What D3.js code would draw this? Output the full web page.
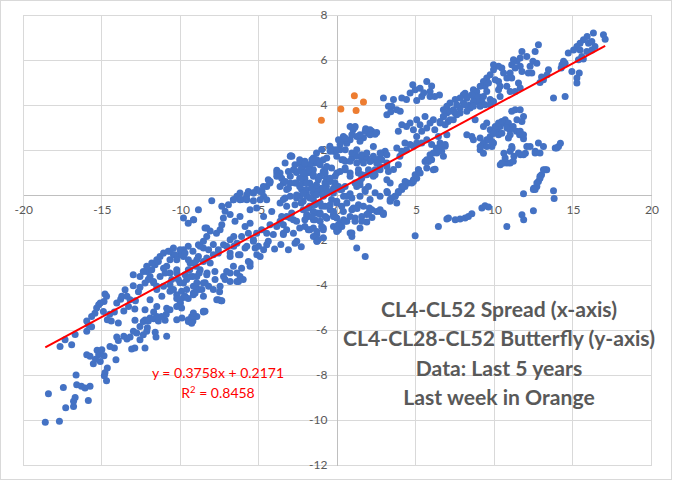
<!DOCTYPE html>
<html><head><meta charset="utf-8">
<script src="https://cdn.jsdelivr.net/npm/d3@7"></script>
<style>body{margin:0;background:#fff}svg{display:block}</style>
</head><body><svg id="chart" width="673" height="481"></svg>
<script>
const xTicks = [-20,-15,-10,-5,0,5,10,15,20];
const yTicks = [-12,-10,-8,-6,-4,-2,0,2,4,6,8];
const trendSlope = 0.3758, trendIntercept = 0.2171;
const trendRange = [-18.6, 17.05];
const equationLines = ["y = 0.3758x + 0.2171", "R² = 0.8458"];
const noteLines = ["CL4-CL52 Spread (x-axis)", "CL4-CL28-CL52 Butterfly (y-axis)", "Data: Last 5 years", "Last week in Orange"];
const orangePoints = [[-1.02,3.32],[0.22,3.82],[1.08,4.41],[1.19,3.76],[1.66,4.13]];
const bluePoints = [
[-18.6,-10.1],[-17.7,-10.05],[-18.4,-8.83],[-17.45,-8.55],[-17.3,-9.45],[-16.8,-9.4],[-16.8,-9.17],[-16.7,-9.0],[-15.86,-9.13],[-16.6,-8.43],[-16.3,-8.5],[-16.07,-8.58],[-15.75,-8.5],[-16.64,-8.0],[-14.7,-8.25],[-14.84,-8.03],[-14.8,-7.9],[-14.65,-7.69],[-15.54,-7.5],[-15.75,-7.17],[-15.96,-7.1],[-15.3,-6.9],[-15.2,-7.1],[-15.1,-7.4],[-15.4,-7.3],[-14.86,-7.14],[-15.0,-6.88],[-14.48,-6.73],[-14.1,-7.32],[-14.2,-6.8],[-14.05,-6.31],[-13.95,-6.47],[-13.6,-6.28],[-13.4,-6.4],[-13.2,-6.31],[-13.1,-6.84],[-12.9,-6.8],[-12.57,-6.43],[-12.78,-6.13],[-12.99,-6.05],[-12.36,-6.21],[-12.14,-6.06],[-12.25,-6.8],[-12.1,-5.9],[-12.57,-5.84],[-12.89,-5.57],[-12.36,-5.62],[-12.25,-5.55],[-11.93,-5.47],[-12.04,-5.6],[-11.7,-5.5],[-11.5,-5.4],[-11.55,-6.31],[-11.6,-6.1],[-10.87,-6.28],[-11.4,-5.6],[-10.97,-5.57],[-11.2,-5.4],[-10.9,-5.3],[-10.66,-5.1],[-10.87,-5.03],[-10.23,-4.95],[-10.0,-4.8],[-9.49,-5.54],[-9.2,-5.6],[-9.28,-5.4],[-8.53,-5.17],[-10.66,-4.28],
[-17.66,-6.73],[-17.34,-6.43],[-16.92,-6.65],[-16.7,-6.2],[-15.96,-6.06],[-15.86,-5.77],[-15.65,-5.86],[-15.96,-5.6],[-15.65,-5.4],[-15.44,-5.25],[-15.33,-5.02],[-15.2,-4.88],[-15.1,-4.8],[-14.86,-4.73],[-14.7,-4.5],[-14.8,-4.4],[-14.9,-5.18],[-14.65,-5.54],[-14.4,-5.6],[-14.5,-5.3],[-14.2,-5.2],[-13.95,-5.69],[-14.05,-4.8],[-13.8,-4.63],[-13.73,-4.5],[-13.52,-4.21],[-13.4,-4.5],[-13.2,-4.65],[-13.3,-4.95],[-13.6,-5.15],[-12.9,-5.07],[-12.86,-4.7],[-13.0,-4.03],[-12.57,-4.1],[-12.67,-4.3],[-12.25,-3.91],[-12.04,-3.76],[-11.93,-3.62],[-12.14,-3.4],[-11.82,-3.32],[-11.61,-3.1],[-11.4,-2.95],[-11.7,-3.9],[-11.5,-4.2],[-11.93,-4.65],[-12.25,-5.1],[-11.7,-5.2],[-11.5,-4.95],[-11.18,-4.5],[-11.07,-4.06],[-11.29,-3.62],[-10.97,-3.47],[-10.87,-3.17],[-10.66,-2.88],[-10.44,-2.65],[-10.23,-3.32],[-10.55,-3.76],[-10.02,-3.9],[-10.23,-4.43],[-9.92,-4.28],[-9.7,-4.5],[-9.6,-3.76],[-9.49,-3.32],[-9.38,-3.02],[-9.8,-2.73],[-9.17,-4.06],[-8.95,-3.62],[-8.74,-3.32],[-8.53,-2.95],[-8.95,-2.88],[-8.3,-3.47],[-8.42,-3.9],[-9.17,-4.43],
[-10.23,-5.54],[-9.9,-5.47],[-9.49,-5.62],[-9.28,-5.7],[-8.95,-5.4],[-8.43,-5.17],[-10.02,-4.8],[-9.92,-5.02],[-10.23,-4.6],[-9.8,-4.55],[-9.5,-4.6],[-9.17,-4.36],[-9.6,-4.2],[-9.0,-4.1],[-8.83,-4.2],[-8.53,-3.91],[-8.2,-4.06],[-7.9,-4.2],[-7.68,-4.65],[-7.4,-4.7],[-7.5,-4.3],[-7.79,-3.76],[-7.25,-3.62],[-6.83,-3.84],[-6.4,-3.47],[-6.2,-3.62],[-6.0,-3.76],[-6.3,-3.84],[-5.67,-2.95],[-5.56,-3.17],[-5.13,-2.65],[-5.03,-2.28],[-4.7,-2.43],[-4.5,-2.21],[-3.12,-2.43],[-2.7,-2.14],[-1.3,-2.06],[-7.05,-3.4],
[-13.0,-3.54],[-12.57,-3.62],[-12.36,-3.4],[-12.14,-3.17],[-11.82,-3.02],[-11.5,-2.88],[-11.29,-2.73],[-11.07,-2.58],[-10.77,-2.5],[-10.44,-2.36],[-10.02,-2.65],[-9.8,-2.43],[-9.5,-2.28],[-9.2,-2.5],[-8.85,-2.21],[-8.53,-2.36],[-8.32,-2.8],[-7.9,-2.65],[-7.58,-2.43],[-7.25,-2.21],[-6.83,-2.58],[-6.6,-2.28],[-6.2,-2.65],[-5.88,-2.36],[-5.35,-2.06],[-10.66,-3.47],[-11.07,-3.25],[-11.71,-3.84],[-11.5,-4.06],[-10.66,-3.99],[-10.13,-3.76],[-9.7,-3.54],[-9.4,-3.32],[-9.0,-3.17],[-8.8,-3.47],[-9.2,-3.62],
[-9.8,-1.02],[-9.17,-1.1],[-9.5,-1.25],[-8.85,-0.65],[-8.0,-0.25],[-8.43,-1.47],[-8.1,-1.6],[-8.32,-1.84],[-7.7,-1.7],[-7.47,-1.54],[-7.36,-1.32],[-7.26,-1.02],[-7.15,-0.72],[-7.36,-0.5],[-6.94,-0.43],[-6.62,-0.21],[-6.4,-0.06],[-6.2,0.09],[-6.1,-0.2],[-5.8,-0.13],[-5.67,0.16],[-5.35,0.1],[-5.13,0.24],[-4.8,0.16],[-4.7,-0.06],[-4.5,0.38],[-4.3,0.53],[-4.4,0.68],[-3.86,0.98],[-3.86,1.1],[-3.55,0.75],[-3.44,0.53],[-3.23,0.24],[-3.33,-0.13],[-3.65,-0.35],[-3.12,1.05],[-2.9,1.72],[-2.7,1.35],[-2.6,1.0],[-2.4,1.57],[-2.28,1.2],[-1.97,1.35],[-1.76,1.0],[-2.07,0.75],[-1.76,0.53],[-1.53,1.64],[-1.43,1.42],[-1.33,1.87],[-1.0,2.02],[-0.9,1.57],[-0.8,1.13],[-0.7,0.75],[-0.7,0.38],[-1.0,0.3],[-1.21,0.09],[-1.53,0.24],[-1.97,0.09],[-2.28,0.24],[-2.6,-0.13],[-2.18,-0.28],[-1.76,-0.5],[-1.95,-0.95],[-1.85,-1.54],[-1.53,-1.1],[-1.31,-1.76],[-0.9,-1.47],[-0.9,-1.9],[-2.59,-2.06],[-2.8,-1.7],[-0.25,-0.73],[-0.04,-1.02],[0.38,-0.73],[0.17,-1.4],[-0.48,2.17],[-0.15,1.94],[0.17,2.25],[-0.04,0.98],[-0.25,0.09],[-2.97,1.75],
[-10.66,-2.5],[-10.35,-2.65],[-10.02,-2.43],[-9.7,-2.58],[-10.23,-2.88],[-9.49,-2.88],[-9.17,-3.02],[-8.85,-2.73],[-8.74,-2.28],[-8.53,-2.06],[-8.2,-2.43],[-7.9,-2.2],[-7.58,-2.58],[-7.05,-2.28],[-6.83,-1.99],[-6.6,-1.84],[-6.4,-2.14],[-6.1,-1.84],[-5.88,-1.4],[-5.56,-1.25],[-5.67,-1.7],[-5.35,-1.99],[-5.24,-2.36],[-4.92,-2.73],[-5.56,-3.02],[-6.1,-3.25],[-6.4,-3.84],[-6.83,-3.47],[-7.15,-3.76],[-7.47,-4.06],[-7.58,-4.65],[-7.36,-4.7],[-8.53,-4.5],[-9.06,-4.36],[-8.63,-4.2],[-8.95,-3.9],[-8.32,-3.54],[-9.38,-3.62],[-9.8,-3.91],[-10.23,-3.47],[-10.44,-4.2],[-10.02,-4.65],[-9.17,-5.24],[-8.53,-5.2],[-4.4,-2.06],[-4.08,-1.76],[-3.86,-1.4],[-4.29,-1.32],[-4.7,-0.95],[-4.18,-0.73],[-3.65,-1.17],[-3.44,-1.7],[-3.23,-0.95],[-2.91,-0.8],[-5.56,-0.65],[-5.14,-0.58],[-6.2,-0.95],[-6.52,-1.17],[-6.83,-0.87],[-5.14,-1.7],[-4.82,-1.54],[-4.5,-1.7],[-5.77,-2.28],[-6.3,-2.65],[-6.83,-2.73],[-8.1,-3.02],[-7.8,-3.4],[-6.62,-3.17],
[-3.0,1.72],[-2.4,1.42],[-3.65,0.98],[-4.28,0.6],[-4.92,0.16],[-5.77,0.01],[-6.62,-0.21],[-9.15,-1.1],[-8.32,-1.47],[-1.31,1.57],[-1.53,1.12],[-0.25,2.01],[0.07,2.46],[-3.0,0.53],[-2.38,-0.06],[-1.31,-0.8],[-2.8,-1.1],[-1.95,1.35],[-2.8,1.12],[-3.86,0.83],[-4.71,0.38],[-5.35,0.09],[-6.2,-0.21],[-5.77,-0.21],[-5.35,-0.25],[-4.92,-0.21],[-4.5,-0.21],[-1.1,1.35],[-1.1,0.83],[-0.78,0.53],[-2.6,0.53],[-1.95,-0.06],[-1.53,0.09],[-0.68,0.09],[-1.1,-0.87],[-0.68,-1.02],[-1.95,-0.87],[-3.23,-1.54],[-3.44,-1.76],[-4.0,-2.4],[-3.6,-2.2],[-2.3,-2.3],
[1.13,3.05],[1.0,2.9],[1.23,2.6],[1.66,2.55],[1.98,2.75],[2.19,2.83],[2.5,2.78],[1.44,2.39],[0.81,2.46],[0.6,2.3],[0.28,2.39],[0.17,2.01],[-0.25,1.94],[-0.04,1.72],[0.28,1.57],[0.5,1.5],[0.92,1.64],[1.23,1.72],[1.55,1.57],[1.87,1.64],[2.08,1.5],[2.4,1.57],[2.83,1.87],[3.04,1.94],[2.72,1.64],[3.15,1.42],[3.25,1.05],[3.57,1.13],[3.88,1.35],[3.98,1.72],[3.78,2.09],[4.1,1.94],[4.4,2.01],[4.63,2.24],[4.84,2.17],[5.05,2.31],[4.3,2.31],[3.88,2.83],[4.1,3.12],[4.4,3.05],[4.63,3.2],[4.84,2.9],[5.05,3.35],[5.26,3.12],[5.37,2.83],[5.58,3.49],[5.69,2.98],[5.9,3.2],[6.11,3.35],[6.2,2.9],[6.43,2.6],[6.54,3.2],[6.75,3.49],[6.97,3.64],[7.17,3.35],[7.39,3.79],[7.6,3.57],[7.81,3.87],[8.02,4.09],[8.24,4.3],[8.13,4.52],[8.45,4.0],[8.66,4.39],[8.87,4.17],[5.05,2.6],[5.37,2.31],[5.69,2.46],[6.0,2.24],[6.3,2.09],[6.54,2.31],[6.86,2.17],[6.97,2.68],[6.75,1.72],[6.64,1.94],[6.33,1.87],[6.0,1.57],[5.8,1.49],[5.69,1.2],[5.58,1.49],[6.11,1.12],[5.16,1.12],[5.05,0.75],[4.84,0.6],[4.5,0.53],[4.3,0.38],[4.1,0.24],[3.88,0.1],[3.68,-0.06],[3.46,-0.13],[3.36,-0.28],[3.19,0.1],[3.78,-0.35],[2.72,-0.73],[2.93,-0.87],[2.04,-0.58],[1.87,-0.87],[1.55,-0.95],[1.13,-1.02],[0.81,-0.95],[0.6,-1.17],[0.39,-1.1],[0.28,-1.4],[0.07,-1.54],[0.92,-1.69],[1.23,-2.36],[1.77,-2.73],[4.95,-1.81],[1.34,-0.43],[1.02,-0.58],[0.92,-0.13],[0.6,-0.06],[1.44,-0.06],[1.76,0.24],[1.44,0.46],[1.12,0.53],[1.55,0.75],[1.87,0.9],[2.19,0.98],[2.4,1.12],[2.72,1.27],[3.15,0.68],[3.36,0.53],[0.81,0.83],[0.49,1.12],[0.17,1.05],[-0.15,0.83],[-0.37,1.2],[-0.68,1.27],[-0.9,1.05],[-1.1,1.5],[-1.43,1.57],[-1.75,1.35],[-2.07,1.5],[-2.28,1.2],[-1.97,0.98],[-1.53,0.83],[-1.22,0.68],[-0.78,0.53],[-0.46,0.6],[-0.25,0.3],[0.07,0.38],[0.28,0.24],[0.39,-0.06],[-0.04,-0.35],[-0.37,-0.2],[-0.68,0.09],[-1.0,0.24],[-1.33,0.24],[-1.63,0.38],[-1.97,0.24],[-2.18,0.53],[-2.4,0.75],[-1.53,-0.2],[-1.1,-0.35],[-0.78,-0.5],[-0.46,-0.65],[-0.25,-0.95],[-0.78,-0.95],[-1.1,-0.8],[-1.53,-0.73],[-1.85,-0.95],[-2.18,-0.65],[-1.43,-1.1],[-1.0,-1.4],[-1.31,-1.62],[-1.75,-1.54],[-2.07,-1.4],[-1.53,-1.84],[-1.22,-1.99],[-0.25,-1.4],[-0.04,-1.62],[0.17,-1.25],[1.87,-1.2],[2.2,-1.0],
[6.43,-1.4],[6.97,-1.07],[7.07,-1.02],[7.5,-1.1],[7.81,-1.07],[8.13,-1.02],[8.34,-0.95],[8.56,-0.83],[9.2,-0.58],[9.4,-0.48],[9.62,-0.53],[10.79,-1.4],[11.75,-0.88],[11.86,-1.1],[12.48,-0.7],[11.85,0.06],[12.59,0.24],[12.7,0.38],[12.8,0.6],[12.9,0.75],[13.0,0.9],[13.23,1.12],[13.76,0.19],[13.8,-0.16],[3.15,0.16],[3.36,-0.2],[3.67,-0.06],[3.88,0.16],[4.1,0.38],[4.31,0.6],[4.74,0.53],[4.84,0.68],[4.95,0.9],[5.16,1.12],[5.27,0.98],[5.69,1.57],[5.9,1.79],[6.11,1.87],[6.43,2.01],[6.64,2.17],[6.86,2.24],[6.22,1.15],[2.72,-0.65],[2.93,-0.8],[9.09,2.01],[9.2,2.2],[9.51,2.46],[9.73,2.6],[9.94,2.75],[10.15,2.9],[10.36,3.05],[10.57,3.2],[10.79,3.12],[10.98,2.9],[11.19,3.05],[11.4,2.83],[11.6,2.68],[11.85,2.5],[12.06,2.16],[11.97,1.86],[11.66,1.79],[11.24,1.72],[11.12,2.09],[10.6,1.86],[10.79,1.42],[11.0,1.42],[11.2,1.5],[10.37,1.34],[10.58,1.42],[9.94,2.31],[9.84,2.16],[9.3,1.86],[12.8,2.31],[12.6,1.94],[13.87,2.09],
[16.94,7.12],[17.05,6.92],[16.3,7.2],[15.9,7.05],[15.67,6.9],[15.99,6.75],[16.2,6.82],[15.45,6.75],[15.25,6.6],[15.04,6.45],[15.45,6.45],[15.88,6.38],[16.2,6.45],[16.4,6.6],[14.7,6.31],[15.56,6.16],[15.35,6.01],[15.66,6.04],[14.4,5.94],[14.3,5.79],[14.5,5.86],[14.93,5.49],[15.4,5.42],[15.25,5.2],[15.25,4.98],[14.25,5.64],[13.44,5.57],[13.35,5.35],[13.12,5.12],[12.9,5.0],[13.0,5.25],[13.76,4.31],[14.5,4.38],[12.8,6.68],[12.59,6.38],[12.45,5.94],[12.27,5.72],[12.38,5.42],[12.7,5.86],[12.06,6.16],[11.75,6.38],[11.64,6.09],[11.43,5.94],[11.21,6.01],[11.1,5.79],[11.32,5.64],[11.64,5.72],[11.75,5.49],[12.16,5.42],[11.0,5.42],[10.79,5.2],[11.1,5.2],[10.58,5.42],[10.47,5.64],[10.26,5.72],[9.94,5.79],[9.94,5.57],[9.73,5.35],[9.51,5.2],[9.3,5.05],[9.4,4.83],[9.62,4.98],[10.05,5.12],[10.26,5.05],[10.36,4.83],[10.79,4.83],[11.0,4.6],[11.32,4.6],[11.53,4.98],[11.64,4.76],[9.09,4.83],[8.87,4.6],[8.66,4.68],[8.56,4.46],[8.24,4.38],[8.02,4.46],[7.81,4.31],[7.5,4.24],[7.6,4.01],[7.17,4.09],[6.97,3.94],[6.75,3.79],[7.17,3.72],[7.5,3.64],[7.81,3.64],[7.38,3.35],[7.05,3.27],[6.75,3.49],[6.86,3.12],[6.54,3.27],[8.98,4.38],[9.3,4.38],[9.51,4.6],[9.2,4.16],[8.87,4.16],[8.66,4.16],[9.09,3.94],[9.4,4.01],[9.73,4.24],[9.73,4.01],[9.94,4.16],[10.26,4.68],[10.36,4.38],[8.45,3.87],[8.13,4.01],[8.24,3.72],[8.66,3.94],[8.77,3.35],[8.24,2.68],[8.56,2.6],[8.66,2.46],[9.09,2.53],[9.3,3.05],[9.51,3.2],[9.73,2.9],[9.94,2.75],[10.05,3.05],[10.26,3.2],[10.47,3.27],[10.68,3.35],[10.89,3.2],[11.1,3.72],[11.32,3.79],[11.43,3.35],[11.64,3.79],[11.85,3.49],[11.75,3.27],[11.1,2.98],[11.0,2.68],[11.64,2.83],[11.85,2.68],[9.3,2.31],[9.62,2.46],[9.09,2.16],[9.51,2.16],[9.84,2.38],[10.26,2.68],[10.47,2.75],[10.79,2.98],[10.89,2.53],[11.1,2.16],[11.0,1.94],[10.68,1.64],[10.47,1.42],[11.53,1.87],[11.85,1.79],[12.27,2.16],[12.59,1.87],[13.12,2.16],[12.9,1.87],[14.08,2.16],[14.2,2.3],[13.33,1.12],[13.12,1.12],[12.9,0.83],[12.7,0.53],[12.5,0.3],[12.48,0.24],[13.97,2.09],
[4.63,4.53],[4.95,4.68],[5.26,4.75],[5.69,5.05],[5.37,4.38],[5.9,4.38],[5.9,4.6],[6.2,4.38],[4.4,4.24],[4.1,4.31],[3.57,4.24],[3.46,3.94],[3.25,3.94],[3.15,3.57],[3.4,3.7],[3.78,3.79],[4.0,3.72],[2.93,4.31],[5.05,4.2],[6.5,4.45],[4.8,4.9],[5.5,4.55],[6.0,4.85],[0.81,3.05],[1.1,3.0],[0.38,2.6],[1.44,2.68],[1.8,2.95],[2.08,2.9],[2.4,2.7],[0.6,2.45],[2.29,2.16],[1.66,1.42],[1.34,0.98],[2.29,0.83],
[-3.33,1.42],[-2.07,1.42],[-1.63,1.57],[-1.12,1.42],[-0.68,1.64],[-0.46,1.94],[-0.04,2.01],[0.49,2.53],[0.92,2.68],[1.77,2.83],[2.08,2.68],[0.5,2.01],[0.92,1.87],[1.23,2.01],[1.55,1.79],[1.87,1.87],[2.29,1.72],[2.72,1.87],[3.15,1.79],[2.83,1.57],[2.5,1.42],[2.08,1.5],[1.23,1.42],[0.81,1.5],[0.39,1.57],[0.49,1.2],[0.81,0.98],[1.34,1.12],[1.55,0.9],[1.98,1.12],[2.4,0.9],[2.72,1.12],[3.15,1.27],[1.44,0.6],[1.77,0.16],[1.98,0.38],[1.23,0.38],[2.08,-0.2],[2.4,0.1],[2.72,-0.06],[0.81,0.06],[0.49,0.38],[0.17,0.24],[-0.15,0.53],[-0.46,0.75],[-0.78,0.98],[-1.1,0.83],[-1.53,0.9],[-1.85,1.12],[-2.18,0.98],[-2.6,1.05],[-3.0,0.83],[-3.33,0.6],[-3.65,0.38],[-3.12,0.3],[-2.7,0.53],[-2.4,0.38],[-1.97,0.53],[-1.63,0.3],[-1.33,0.46],[-0.9,0.3],[-0.58,0.16],[-0.9,-0.06],[-1.33,0.01],[-1.75,-0.13],[-2.18,0.09],[-2.6,0.0],[-3.0,-0.06],[-3.44,-0.2],[-3.23,-0.5],[-2.7,-0.43],[-2.3,-0.35],[-1.85,-0.58],[-1.43,-0.43],[-1.0,-0.5],[-0.46,-0.43],[-0.04,-0.28],[0.28,-0.5],[0.6,-0.35],[0.92,-0.65],[1.25,-0.6],[1.66,-0.5],[1.98,-0.8],[2.5,-0.73],[-0.25,-0.87],[-0.68,-1.02],[-1.1,-1.17],[-1.63,-0.95],[-2.07,-1.1],[-2.6,-1.17],[-3.0,-1.02],[-3.55,-0.95],[-3.44,-1.32],[-2.4,-1.47],[-1.53,-1.47],[-0.9,-1.54],[0.06,-1.32],[0.49,-1.17],[1.12,-1.17],[1.44,-1.47],[-0.15,-0.95],[-0.04,-1.54],[0.81,-1.69],[0.92,-1.84],[1.55,-1.17],[2.19,-0.65],[-1.31,-2.06]
];

const W = 673, H = 481;
const svg = d3.select("#chart");
const x = d3.scaleLinear().domain([xTicks[0], xTicks[xTicks.length-1]]).range([23.3, 651.5]);
const y = d3.scaleLinear().domain([yTicks[0], yTicks[yTicks.length-1]]).range([465, 15]);
const font = "Lato, 'Open Sans', sans-serif";

svg.append("rect").attr("x",0.5).attr("y",0.5).attr("width",W-2).attr("height",H-2)
  .attr("fill","#fff").attr("stroke","#D9D9D9");

const grid = svg.append("g").attr("stroke","#D9D9D9").attr("stroke-width",1).attr("shape-rendering","crispEdges");
grid.selectAll(".vx").data(xTicks).join("line")
  .attr("x1",d=>x(d)).attr("x2",d=>x(d)).attr("y1",y.range()[0]).attr("y2",y.range()[1]);
grid.selectAll(".hy").data(yTicks).join("line")
  .attr("y1",d=>y(d)).attr("y2",d=>y(d)).attr("x1",x.range()[0]).attr("x2",x.range()[1]);

const xAxis = svg.append("g").attr("transform",`translate(0,${y(0)})`)
  .call(d3.axisBottom(x).tickValues(xTicks).tickSize(0).tickPadding(10).tickFormat(d3.format("d")));
const yAxis = svg.append("g").attr("transform",`translate(${x(0)},0)`)
  .call(d3.axisLeft(y).tickValues(yTicks).tickSize(0).tickPadding(10).tickFormat(d3.format("d")));
[xAxis,yAxis].forEach(a=>{
  a.select(".domain").attr("stroke","#BFBFBF").attr("shape-rendering","crispEdges");
  a.selectAll("text").attr("fill","#595959").style("font-family",font).style("font-size","12px");
});
xAxis.selectAll("text").text(d=>d<0?"-"+Math.abs(d):d);
yAxis.selectAll("text").text(d=>d<0?"-"+Math.abs(d):d);

svg.append("g").selectAll("circle").data(bluePoints).join("circle")
  .attr("cx",d=>x(d[0])).attr("cy",d=>y(d[1])).attr("r",3.5).attr("fill","#4472C4");

svg.append("line")
  .attr("x1",x(trendRange[0])).attr("y1",y(trendSlope*trendRange[0]+trendIntercept))
  .attr("x2",x(trendRange[1])).attr("y2",y(trendSlope*trendRange[1]+trendIntercept))
  .attr("stroke","#FF0000").attr("stroke-width",2);

svg.append("g").selectAll("circle").data(orangePoints).join("circle")
  .attr("cx",d=>x(d[0])).attr("cy",d=>y(d[1])).attr("r",3.5).attr("fill","#ED7D31");

const eq = svg.append("g").attr("fill","#FF0000").style("font-family",font).style("font-size","14px").attr("text-anchor","middle");
eq.selectAll("text").data(equationLines).join("text")
  .attr("x",218).attr("y",(d,i)=>378+i*19.5)
  .each(function(d){
    const t=d3.select(this);
    if(d.startsWith("R²")){ t.text(null); t.append("tspan").text("R"); t.append("tspan").attr("font-size","9.5px").attr("dy","-5").text("2"); t.append("tspan").attr("dy","5").text(" = 0.8458"); }
    else t.text(d);
  });

const notes = svg.append("g").attr("fill","#595959").style("font-family",font).style("font-weight","bold").style("font-size","21px").attr("text-anchor","middle");
const noteTexts = notes.selectAll("text").data(noteLines).join("text")
  .attr("x",499).attr("y",(d,i)=>317+i*29.3).text(d=>d);
// fit the widest line to the reference width
const widest = d3.max(noteTexts.nodes(), n=>n.getComputedTextLength());
if (widest > 0) notes.style("font-size", (21*312/widest).toFixed(2)+"px");
</script></body></html>
